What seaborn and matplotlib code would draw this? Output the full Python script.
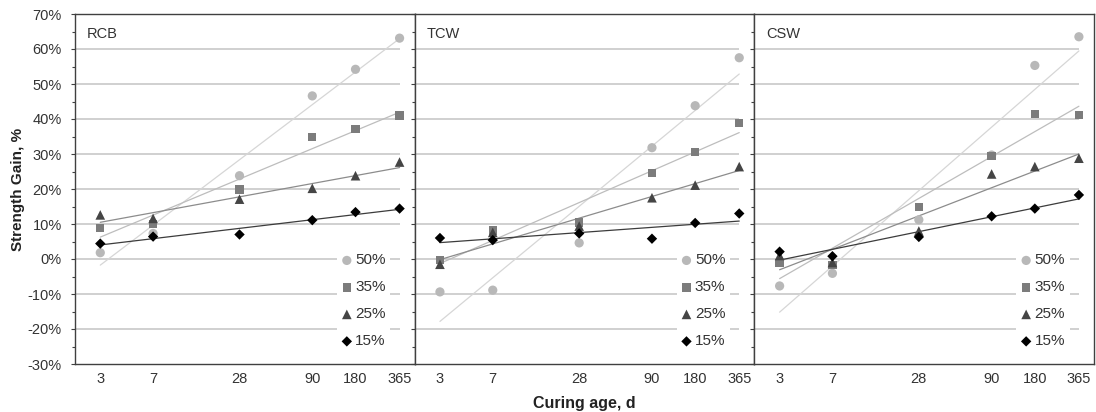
import numpy as np
import matplotlib
matplotlib.use("Agg")
import matplotlib.pyplot as plt
from matplotlib.ticker import MultipleLocator, FuncFormatter, NullLocator
import seaborn as sns

# Curing ages (days) and binder replacement levels
ages = [3, 7, 28, 90, 180, 365]
panels = ["RCB", "TCW", "CSW"]
levels = ["50%", "35%", "25%", "15%"]

# Strength gain (%) per panel and replacement level
rcb_50 = [1.8, 7.3, 23.8, 46.6, 54.2, 63.1]
rcb_35 = [8.9, 10.0, 19.9, 34.8, 37.2, 41.0]
rcb_25 = [12.6, 11.6, 17.1, 20.2, 23.8, 27.7]
rcb_15 = [4.4, 6.4, 7.0, 11.1, 13.4, 14.4]

tcw_50 = [-9.4, -8.9, 4.6, 31.8, 43.8, 57.5]
tcw_35 = [-0.3, 8.1, 10.4, 24.5, 30.6, 38.8]
tcw_25 = [-1.5, 7.6, 9.4, 17.5, 21.1, 26.4]
tcw_15 = [6.0, 5.4, 7.3, 5.8, 10.3, 13.0]

csw_50 = [-7.7, -4.1, 11.2, 29.7, 55.3, 63.5]
csw_35 = [-1.1, -1.8, 14.9, 29.5, 41.4, 41.2]
csw_25 = [1.0, -1.0, 8.0, 24.3, 26.4, 28.8]
csw_15 = [2.1, 0.8, 6.3, 12.2, 14.4, 18.3]

panel_data = {
    "RCB": [rcb_50, rcb_35, rcb_25, rcb_15],
    "TCW": [tcw_50, tcw_35, tcw_25, tcw_15],
    "CSW": [csw_50, csw_35, csw_25, csw_15],
}

# Marker styling per replacement level
markers = ["o", "s", "^", "D"]
marker_colors = ["#b8b8b8", "#7c7c7c", "#454545", "#000000"]
marker_sizes = [44, 36, 48, 28]
line_colors = ["#d6d6d6", "#bdbdbd", "#8c8c8c", "#3c3c3c"]

sns.set_style("white")
plt.rcParams["font.family"] = ["Liberation Sans", "DejaVu Sans"]

text_color = "#333333"
frame_color = "#404040"

fig = plt.figure(figsize=(10.96, 4.12), dpi=100)
axes = fig.subplots(1, 3, sharey=True)
fig.subplots_adjust(left=75 / 1096, right=1094 / 1096,
                    top=1 - 14 / 412, bottom=1 - 364 / 412, wspace=0)

log_ages = np.log(ages)
x_ends = np.array([ages[0], ages[-1]])

for i, (ax, name) in enumerate(zip(axes, panels)):
    ax.set_xscale("log")
    ax.set_xlim(2.0, 465)
    ax.set_ylim(-30, 70)

    # horizontal gridlines stop at the last curing age
    ax.hlines(np.arange(-20, 61, 10), ax.get_xlim()[0], ages[-1],
              colors="#c4c4c4", linewidth=1.1, zorder=0)

    series = panel_data[name]
    # logarithmic trend lines
    for vals, lc in zip(series, line_colors):
        coef = np.polyfit(log_ages, vals, 1)
        sns.lineplot(x=x_ends, y=np.polyval(coef, np.log(x_ends)), ax=ax,
                     color=lc, linewidth=0.9, legend=False, zorder=2)
    # measured points
    for vals, lab, mk, mc, ms in zip(series, levels, markers,
                                     marker_colors, marker_sizes):
        sns.scatterplot(x=ages, y=vals, ax=ax, marker=mk, color=mc, s=ms,
                        edgecolor="none", linewidth=0, label=lab, zorder=3)

    ax.set_xticks(ages)
    ax.set_xticklabels([str(a) for a in ages])
    ax.xaxis.set_minor_locator(NullLocator())
    ax.yaxis.set_major_locator(MultipleLocator(10))
    ax.yaxis.set_minor_locator(MultipleLocator(5))
    ax.yaxis.set_major_formatter(FuncFormatter(lambda v, p: f"{v:.0f}%"))

    ax.tick_params(axis="x", which="major", direction="in", length=3,
                   width=0.8, color=frame_color, pad=6,
                   labelsize=10.5, labelcolor=text_color)
    ax.tick_params(axis="y", which="major", direction="out", length=3,
                   width=0.8, color=frame_color, pad=6.5,
                   labelsize=10.5, labelcolor=text_color, left=True,
                   labelleft=(i == 0))
    ax.tick_params(axis="y", which="minor", direction="out", length=2,
                   width=0.8, color=frame_color, left=True)

    for sp in ax.spines.values():
        sp.set_visible(True)
        sp.set_color(frame_color)
        sp.set_linewidth(1.0)

    ax.text(0.035, 0.962, name, transform=ax.transAxes, ha="left", va="top",
            fontsize=10.5, color=text_color)

    leg = ax.legend(loc="upper left", bbox_to_anchor=(0.771, 0.329),
                    frameon=True, facecolor="white", edgecolor="none",
                    framealpha=1, fancybox=False, fontsize=11,
                    handlelength=0.7, handletextpad=0.2, labelspacing=0.85,
                    borderpad=0.3, borderaxespad=0)
    for t in leg.get_texts():
        t.set_color(text_color)

    ax.set_xlabel("")
    ax.set_ylabel("")

axes[0].set_ylabel("Strength Gain, %", fontsize=11, fontweight="bold",
                   color="#222222")
axes[0].yaxis.set_label_coords(-0.148, 0.5)
axes[1].set_xlabel("Curing age, d", fontsize=11.5, fontweight="bold",
                   color="#222222", labelpad=7)

fig.savefig("out.png", dpi=100, facecolor="white")
